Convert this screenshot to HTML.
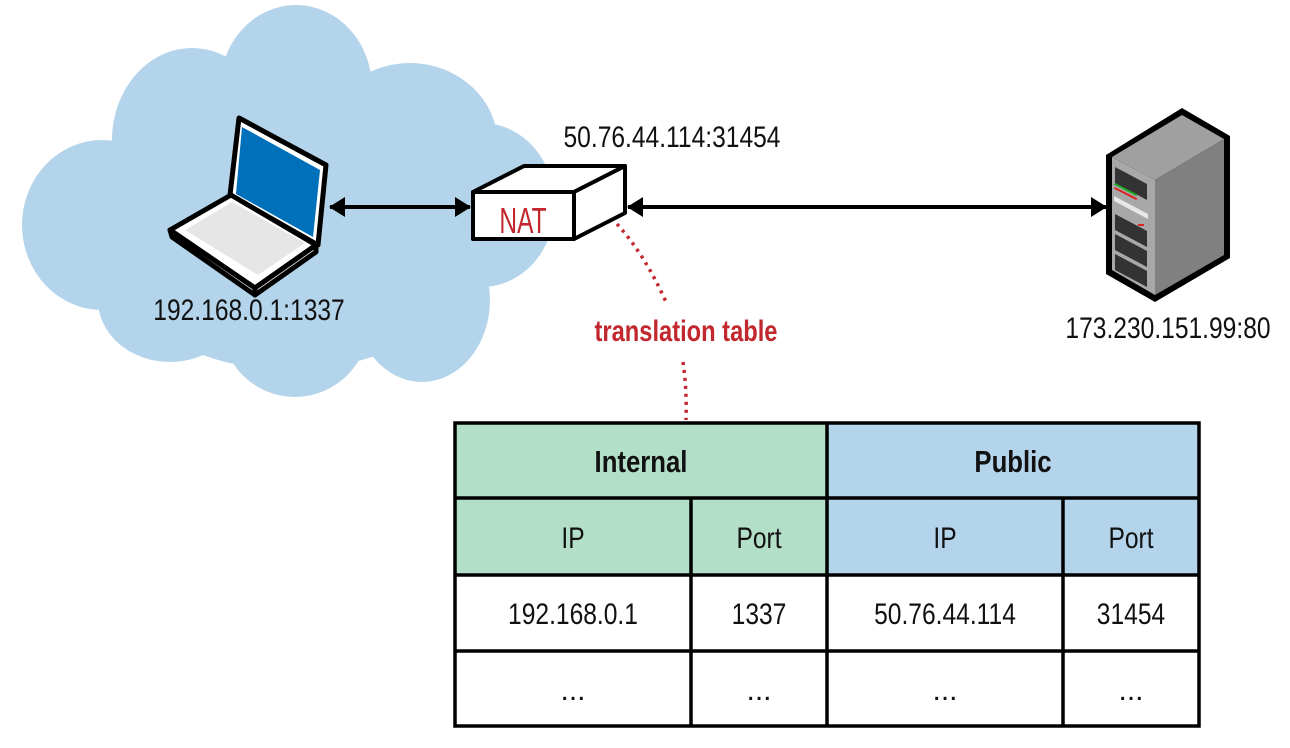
<!DOCTYPE html>
<html><head><meta charset="utf-8"><style>
html,body{margin:0;padding:0;background:#fff;width:1290px;height:748px;overflow:hidden}
svg text{font-family:"Liberation Sans",sans-serif}
</style></head><body>
<svg width="1290" height="748" viewBox="0 0 1290 748" xmlns="http://www.w3.org/2000/svg">
<defs>
<marker id="ah" markerWidth="16" markerHeight="20" refX="15" refY="10" orient="auto-start-reverse" markerUnits="userSpaceOnUse" viewBox="0 0 16 20">
<path d="M0,0 L16,10 L0,20 z" fill="#000"/></marker>
</defs>
<!-- cloud -->
<g fill="#b3d4ea">
<ellipse cx="296" cy="88" rx="76" ry="83"/>
<ellipse cx="192" cy="140" rx="80" ry="92"/>
<ellipse cx="102" cy="225" rx="80" ry="85"/>
<ellipse cx="170" cy="300" rx="72" ry="62"/>
<ellipse cx="295" cy="320" rx="75" ry="77"/>
<ellipse cx="422" cy="300" rx="68" ry="82"/>
<ellipse cx="482" cy="205" rx="73" ry="82"/>
<ellipse cx="410" cy="145" rx="88" ry="82"/>
<ellipse cx="290" cy="220" rx="200" ry="150"/>
</g>
<!-- white label box -->
<rect x="528" y="303" width="317" height="56" fill="#fff"/>
<!-- laptop -->
<g stroke="#000" stroke-width="5" stroke-linejoin="round">
<polygon points="239,118 326,165 318,245 230,195" fill="#fff"/>
<polygon points="170,230 231,195 316,245 255,288" fill="#fff"/>
<polygon points="170,230 255,288 255,295 172,237" fill="#fff"/>
<polygon points="255,288 316,245 316,252 255,295" fill="#fff"/>
</g>
<polygon points="242,127 320,170 313,237 236,194" fill="#0070ba"/>
<polygon points="185,230 232,202 305,243 258,275" fill="#e6e6e6"/>
<!-- arrows -->
<line x1="330" y1="207" x2="470" y2="207" stroke="#000" stroke-width="4" marker-start="url(#ah)" marker-end="url(#ah)"/>
<line x1="628" y1="207" x2="1106" y2="207" stroke="#000" stroke-width="4" marker-start="url(#ah)" marker-end="url(#ah)"/>
<!-- NAT box -->
<g stroke="#000" stroke-width="4" stroke-linejoin="round" fill="#fff">
<polygon points="473,192 524,166 625,166 574,192"/>
<polygon points="574,192 625,166 625,213 574,239"/>
<rect x="473" y="192" width="101" height="47"/>
</g>
<text x="523" y="233" font-size="36" fill="#c1272d" text-anchor="middle" transform="translate(523,0) scale(0.68,1) translate(-523,0)">NAT</text>
<!-- server -->
<polygon points="1106,155 1182,108 1230,136 1230,258 1155,302 1106,274" fill="#000"/>
<polygon points="1112,157 1182,115 1224,139 1155,180" fill="#a0a0a0"/>
<polygon points="1155,180 1224,139 1224,255 1155,295" fill="#808080"/>
<polygon points="1112,157 1155,180 1155,295 1112,270" fill="#a8a8a8"/>
<g fill="#333">
<polygon points="1115,167 1147,184 1147,200 1115,183"/>
<polygon points="1115,214 1147,231 1147,247 1115,230"/>
<polygon points="1115,234 1147,251 1147,267 1115,250"/>
<polygon points="1115,254 1147,271 1147,287 1115,270"/>
</g>
<polygon points="1114,196 1148,214 1148,219 1114,201" fill="#e8e8e8"/>
<g fill="#2a2"><rect x="1115" y="183" width="25" height="2" transform="rotate(27 1115 183)"/></g>
<g fill="#d22"><rect x="1115" y="187" width="25" height="2" transform="rotate(27 1115 187)"/><rect x="1138" y="224" width="6" height="2"/></g>
<!-- labels -->
<g font-size="30" fill="#111">
<text x="249" y="320" text-anchor="middle" transform="translate(249,0) scale(0.82,1) translate(-249,0)">192.168.0.1:1337</text>
<text x="672" y="147" text-anchor="middle" transform="translate(672,0) scale(0.82,1) translate(-672,0)">50.76.44.114:31454</text>
<text x="1168" y="338" text-anchor="middle" transform="translate(1168,0) scale(0.82,1) translate(-1168,0)">173.230.151.99:80</text>
</g>
<text x="686" y="341" font-size="30" font-weight="bold" fill="#c1272d" text-anchor="middle" transform="translate(686,0) scale(0.79,1) translate(-686,0)">translation table</text>
<!-- dotted lines -->
<path d="M617,224 Q645,255 666,302" stroke="#c1272d" stroke-width="3.5" stroke-dasharray="3,5" fill="none"/>
<path d="M683,362 Q687,390 686,420" stroke="#c1272d" stroke-width="3.5" stroke-dasharray="3,5" fill="none"/>
<!-- table -->
<rect x="455" y="423" width="372" height="152" fill="#b3dfc9"/>
<rect x="827" y="423" width="372" height="152" fill="#b3d4ea"/>
<g stroke="#000" stroke-width="3.5" fill="none">
<rect x="455" y="423" width="744" height="303"/>
<line x1="455" y1="498" x2="1199" y2="498"/>
<line x1="455" y1="575" x2="1199" y2="575"/>
<line x1="455" y1="651" x2="1199" y2="651"/>
<line x1="827" y1="423" x2="827" y2="726"/>
<line x1="691" y1="498" x2="691" y2="726"/>
<line x1="1063" y1="498" x2="1063" y2="726"/>
</g>
<g font-size="30" fill="#111" text-anchor="middle">
<text x="641" y="472" font-size="31" font-weight="bold" transform="translate(641,0) scale(0.83,1) translate(-641,0)">Internal</text>
<text x="1013" y="472" font-size="31" font-weight="bold" transform="translate(1013,0) scale(0.83,1) translate(-1013,0)">Public</text>
<text x="573" y="548" transform="translate(573,0) scale(0.82,1) translate(-573,0)">IP</text>
<text x="759" y="548" transform="translate(759,0) scale(0.82,1) translate(-759,0)">Port</text>
<text x="945" y="548" transform="translate(945,0) scale(0.82,1) translate(-945,0)">IP</text>
<text x="1131" y="548" transform="translate(1131,0) scale(0.82,1) translate(-1131,0)">Port</text>
<text x="573" y="624" transform="translate(573,0) scale(0.82,1) translate(-573,0)">192.168.0.1</text>
<text x="759" y="624" transform="translate(759,0) scale(0.82,1) translate(-759,0)">1337</text>
<text x="945" y="624" transform="translate(945,0) scale(0.82,1) translate(-945,0)">50.76.44.114</text>
<text x="1131" y="624" transform="translate(1131,0) scale(0.82,1) translate(-1131,0)">31454</text>
<text x="573" y="700">...</text>
<text x="759" y="700">...</text>
<text x="945" y="700">...</text>
<text x="1131" y="700">...</text>
</g>
</svg>
</body></html>
